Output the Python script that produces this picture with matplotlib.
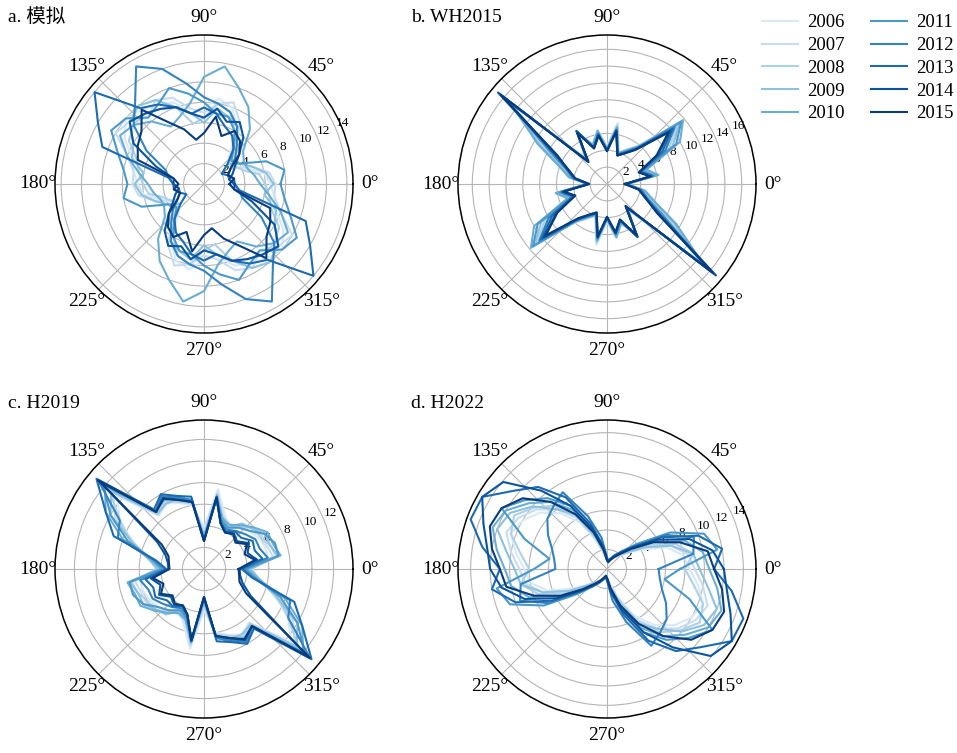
import numpy as np
import matplotlib.pyplot as plt

plt.rcParams['font.family'] = ['Liberation Serif', 'Noto Sans CJK SC']

YEARS = [str(y) for y in range(2006, 2016)]
# direcciones cada 10 grados; los datos son axiales, θ y θ+180 comparten valor
ANGULOS = np.arange(0, 180, 10)

# a. 模拟
SIM = [
    [6.5, 6.0, 4.5, 3.5, 3.0, 4.0, 6.5, 8.0, 8.5, 7.5, 7.0, 8.5, 9.0, 9.5, 10.0, 9.0, 7.5, 7.0],
    [7.0, 6.5, 5.0, 3.0, 3.5, 5.0, 7.0, 8.5, 8.0, 7.0, 7.5, 9.0, 9.5, 8.5, 9.5, 10.0, 8.0, 7.0],
    [6.0, 5.5, 4.0, 3.5, 4.0, 5.5, 6.0, 7.5, 8.0, 6.5, 6.0, 8.0, 8.5, 9.0, 9.0, 8.5, 7.0, 6.5],
    [6.8, 6.2, 5.0, 4.0, 3.0, 4.5, 6.5, 7.0, 7.5, 6.0, 7.0, 8.0, 9.5, 10.0, 9.5, 8.0, 7.5, 6.0],
    [5.5, 5.0, 4.5, 4.5, 5.0, 7.0, 8.7, 10.0, 11.7, 10.5, 8.0, 7.0, 6.5, 8.0, 9.0, 9.5, 8.0, 6.5],
    [7.5, 8.0, 6.5, 4.0, 3.5, 4.5, 6.0, 7.0, 7.0, 8.0, 9.0, 10.0, 9.0, 8.5, 10.0, 10.5, 9.0, 8.0],
    [3.0, 2.5, 2.5, 3.0, 4.0, 5.0, 6.5, 7.5, 8.0, 8.5, 10.0, 12.0, 13.3, 10.5, 9.0, 6.5, 4.0, 3.5],
    [3.0, 3.0, 2.5, 2.0, 3.0, 4.5, 5.5, 6.0, 7.0, 7.5, 7.0, 8.0, 9.0, 9.7, 14.0, 12.0, 10.6, 3.5],
    [3.0, 2.5, 3.0, 3.5, 4.5, 6.0, 7.0, 6.5, 7.5, 6.5, 7.0, 8.0, 8.5, 9.0, 9.5, 8.0, 5.0, 3.0],
    [2.5, 3.0, 2.5, 3.0, 4.5, 5.5, 6.0, 5.0, 6.7, 5.0, 4.4, 5.7, 7.0, 9.5, 8.0, 7.5, 6.9, 3.0],
]

# b. WH2015
WH2015 = [
    [2.4, 5.8, 4.6, 7.8, 10.5, 6.0, 4.8, 4.0, 7.4, 4.5, 6.4, 5.0, 6.8, 4.0, 14.0, 8.5, 5.5, 4.3],
    [2.4, 5.6, 4.5, 8.0, 10.8, 6.0, 4.6, 4.0, 7.2, 4.4, 6.3, 4.9, 6.9, 4.0, 14.5, 8.8, 5.4, 4.2],
    [2.3, 5.9, 4.7, 8.5, 11.0, 5.8, 4.7, 3.9, 7.0, 4.3, 6.5, 5.0, 7.0, 3.9, 14.8, 9.0, 5.6, 4.4],
    [2.3, 6.0, 4.8, 9.0, 11.3, 5.9, 4.5, 3.8, 6.9, 4.2, 6.2, 4.8, 6.8, 3.8, 15.2, 9.2, 5.8, 4.5],
    [2.3, 6.2, 5.0, 10.0, 11.8, 5.8, 4.6, 3.9, 6.8, 4.1, 6.4, 4.9, 7.1, 3.7, 15.0, 9.5, 6.0, 4.6],
    [2.3, 5.7, 4.5, 9.5, 11.5, 5.6, 4.4, 3.8, 6.6, 4.1, 6.1, 4.7, 7.0, 3.6, 15.5, 8.0, 5.2, 4.2],
    [2.2, 5.5, 4.3, 8.0, 10.5, 5.6, 4.4, 3.7, 6.5, 4.0, 6.0, 4.6, 7.2, 3.6, 15.8, 7.5, 5.0, 4.0],
    [2.2, 5.4, 4.2, 7.5, 10.2, 5.5, 4.3, 3.7, 6.5, 4.0, 6.0, 4.6, 7.3, 3.5, 16.2, 7.0, 5.0, 4.0],
    [2.2, 5.3, 4.1, 7.0, 9.8, 5.4, 4.2, 3.6, 6.4, 3.9, 5.9, 4.5, 7.2, 3.5, 16.9, 7.2, 4.8, 3.9],
    [2.1, 5.2, 4.0, 6.8, 9.5, 5.3, 4.2, 3.6, 6.3, 3.9, 5.8, 4.5, 7.0, 3.4, 16.5, 6.8, 4.9, 3.8],
]

# c. H2019
H2019 = [
    [4.5, 6.0, 6.0, 5.8, 5.5, 5.0, 4.5, 5.5, 7.5, 3.8, 6.0, 6.5, 7.0, 6.5, 10.5, 9.0, 7.0, 5.0],
    [4.2, 6.5, 6.2, 6.2, 5.5, 5.2, 4.8, 5.2, 7.2, 3.5, 6.0, 6.8, 7.2, 6.5, 11.0, 9.5, 6.8, 5.0],
    [4.0, 6.8, 6.5, 6.0, 6.0, 5.0, 4.6, 5.0, 7.0, 3.2, 6.2, 6.6, 7.3, 6.8, 11.5, 9.0, 7.2, 4.8],
    [4.3, 7.0, 6.5, 6.5, 5.8, 5.5, 4.5, 4.8, 7.0, 3.0, 6.5, 6.9, 7.0, 6.7, 11.2, 10.0, 7.0, 5.2],
    [4.0, 7.2, 6.8, 6.8, 6.0, 5.3, 4.7, 5.0, 6.8, 3.0, 6.3, 7.0, 7.4, 7.0, 12.0, 10.5, 8.0, 5.0],
    [3.8, 7.0, 7.0, 6.5, 5.5, 5.0, 4.4, 4.8, 6.5, 2.8, 6.4, 7.2, 7.6, 7.0, 12.2, 10.0, 7.5, 4.8],
    [3.6, 6.0, 5.5, 5.5, 5.0, 4.6, 4.2, 4.6, 6.8, 2.7, 6.5, 7.0, 7.8, 7.0, 12.8, 9.0, 8.5, 4.6],
    [3.5, 5.5, 5.0, 5.2, 4.5, 4.5, 4.0, 4.5, 6.8, 2.6, 6.8, 7.2, 8.0, 7.2, 13.0, 10.5, 8.9, 4.5],
    [3.3, 5.0, 4.3, 4.8, 4.0, 4.3, 3.9, 4.5, 6.7, 2.6, 6.3, 6.8, 7.6, 6.9, 12.5, 5.0, 3.8, 3.4],
    [3.2, 4.8, 4.0, 4.6, 3.8, 4.2, 3.9, 4.5, 6.7, 2.6, 6.3, 6.8, 7.5, 6.9, 12.8, 4.5, 3.5, 3.3],
]

# d. H2022
H2022 = [
    [8.5, 8.0, 6.5, 4.0, 2.5, 1.8, 1.4, 1.0, 0.8, 1.0, 1.5, 3.0, 5.5, 7.5, 9.0, 10.0, 10.5, 9.5],
    [9.0, 8.5, 7.0, 4.5, 2.7, 1.9, 1.4, 1.0, 0.8, 0.9, 1.6, 3.2, 6.0, 8.0, 9.5, 10.5, 11.0, 10.0],
    [8.0, 9.0, 7.5, 5.0, 3.0, 2.0, 1.5, 1.1, 0.8, 1.0, 1.8, 3.5, 6.2, 8.5, 9.8, 11.0, 10.5, 9.0],
    [9.5, 9.0, 7.0, 4.5, 2.6, 1.8, 1.3, 1.0, 0.7, 0.9, 1.7, 3.6, 6.5, 8.0, 10.0, 11.5, 12.0, 10.5],
    [10.5, 10.0, 8.5, 5.5, 3.2, 2.1, 1.6, 1.2, 0.9, 1.0, 2.0, 4.0, 7.0, 9.0, 10.5, 12.0, 12.5, 11.5],
    [7.5, 11.5, 10.6, 7.5, 4.0, 2.4, 1.7, 1.2, 0.9, 1.0, 2.2, 4.2, 7.5, 9.5, 11.0, 12.5, 9.0, 6.0],
    [5.3, 9.0, 9.5, 7.0, 3.5, 2.2, 1.5, 1.1, 0.8, 1.2, 3.3, 5.8, 9.1, 8.5, 8.0, 7.0, 6.0, 5.5],
    [11.0, 12.0, 10.0, 6.5, 3.6, 2.3, 1.6, 1.1, 0.8, 1.1, 2.5, 5.0, 8.5, 11.0, 12.5, 14.8, 14.9, 13.0],
    [12.0, 11.0, 9.0, 6.0, 3.4, 2.1, 1.5, 1.0, 0.8, 1.0, 2.3, 4.5, 7.5, 10.5, 13.9, 14.8, 13.5, 12.5],
    [11.0, 10.5, 8.0, 5.5, 3.2, 2.0, 1.4, 1.0, 0.7, 0.9, 2.0, 4.0, 6.5, 9.0, 11.3, 12.5, 12.8, 12.0],
]

PANELES = [
    ('a. 模拟', SIM, 14.6, [2, 4, 6, 8, 10, 12, 14]),
    ('b. WH2015', WH2015, 17.7, [2, 4, 6, 8, 10, 12, 14, 16]),
    ('c. H2019', H2019, 13.8, [2, 4, 6, 8, 10, 12]),
    ('d. H2022', H2022, 15.3, [2, 4, 6, 8, 10, 12, 14]),
]

W, H = 957, 753
CENTROS = [(204, 184), (607, 184), (204, 569), (607, 569)]
RADIO = 149
colores = plt.cm.Blues(np.linspace(0.15, 0.95, len(YEARS)))

fig = plt.figure(figsize=(W / 100, H / 100), dpi=100)

theta = np.deg2rad(np.r_[ANGULOS, ANGULOS + 180, 0])
lineas = []
for (titulo, datos, rmax, rticks), (cx, cy) in zip(PANELES, CENTROS):
    ax = fig.add_axes([(cx - RADIO) / W, (H - cy - RADIO) / H, 2 * RADIO / W, 2 * RADIO / H],
                      projection='polar')
    lineas = []
    for fila, color in zip(datos, colores):
        r = np.r_[fila, fila, fila[0]]
        l, = ax.plot(theta, r, color=color, lw=1.5)
        lineas.append(l)
    ax.set_ylim(0, rmax)
    ax.set_rticks(rticks)
    ax.set_thetagrids(np.arange(0, 360, 45))
    ax.set_rlabel_position(22.5)
    ax.grid(color='#b5b5b5', lw=0.8)
    ax.tick_params(axis='x', labelsize=14, pad=2)
    ax.tick_params(axis='y', labelsize=9.5)
    ax.spines['polar'].set_linewidth(1.1)
    fig.text((cx - 196) / W, 1 - 17 / H if cy < 300 else 1 - 403 / H, titulo,
             fontsize=14, ha='left', va='center')

fig.legend(lineas, YEARS, ncol=2, loc='upper right', bbox_to_anchor=(1.008, 0.996),
           frameon=False, fontsize=13.5, handlelength=1.9, handletextpad=0.5,
           columnspacing=1.4, labelspacing=0.3, borderaxespad=0.2)

fig.savefig('out.png', dpi=100)
